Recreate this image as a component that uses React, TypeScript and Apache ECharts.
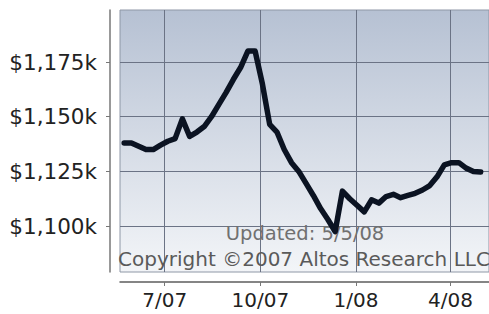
import React, { useEffect, useRef } from "react";
import * as echarts from "echarts";

const startDate = "2007-05-23";
const weeklyValues = [
  1138, 1138, 1136.5, 1135, 1135, 1137, 1138.8, 1140, 1149, 1141,
  1143, 1145.5, 1150, 1155.5, 1161, 1167, 1172.5, 1180, 1180, 1165,
  1146.5, 1143, 1135, 1129, 1125, 1119.5, 1114, 1108, 1103, 1097.5,
  1116, 1112.5, 1109.5, 1106.5, 1112, 1110.5, 1113.5, 1114.5, 1113, 1114,
  1115, 1116.5, 1118.5, 1122.5, 1128, 1129, 1129, 1126.5, 1125, 1124.7,
];
const xTickDates = ["2007-07-01", "2007-10-01", "2008-01-01", "2008-04-01"];
const yTickValues = [1100, 1125, 1150, 1175];
const xMinDate = "2007-05-19";
const xMaxDate = "2008-05-08";
const yMin = 1079;
const yMax = 1198.8;
const updatedText = "Updated: 5/5/08";
const copyrightText = "Copyright \u00a92007 Altos Research LLC";

const DAY = 86400000;

export default function App() {
  const ref = useRef<HTMLDivElement>(null);
  useEffect(() => {
    if (!ref.current) return;
    const chart = echarts.init(ref.current, null, { renderer: "svg" });
    const t0 = Date.parse(startDate + "T00:00:00Z");
    const data = weeklyValues.map((v, i) => [t0 + i * 7 * DAY, v]);
    const xTicks = xTickDates.map((d) => Date.parse(d + "T00:00:00Z"));
    const font = "DejaVu Sans";
    chart.setOption({
      animation: false,
      backgroundColor: "#ffffff",
      grid: {
        left: 120,
        right: 0,
        top: 10,
        bottom: 42,
        show: true,
        borderColor: "#8e97a6",
        borderWidth: 1,
        backgroundColor: new echarts.graphic.LinearGradient(0, 0, 0, 1, [
          { offset: 0, color: "#b6c1d3" },
          { offset: 1, color: "#f3f5f8" },
        ]),
        outerBoundsMode: "none",
      },
      xAxis: {
        type: "value",
        min: Date.parse(xMinDate + "T00:00:00Z"),
        max: Date.parse(xMaxDate + "T00:00:00Z"),
        offset: 10,
        axisLine: { show: true, lineStyle: { color: "#5e5e5e", width: 1.5 } },
        axisTick: {
          show: true,
          length: 4,
          customValues: xTicks,
          lineStyle: { color: "#777" },
        },
        axisLabel: {
          customValues: xTicks,
          margin: 8,
          color: "#222",
          fontSize: 20,
          fontFamily: font,
          formatter: (v: number) => {
            const d = new Date(v);
            const m = d.getUTCMonth() + 1;
            const y = String(d.getUTCFullYear() % 100).padStart(2, "0");
            return m + "/" + y;
          },
        },
        splitLine: { show: true, lineStyle: { color: "#6b7385", width: 1 } },
      },
      yAxis: {
        type: "value",
        min: yMin,
        max: yMax,
        offset: 10,
        axisLine: { show: true, lineStyle: { color: "#777", width: 1.5 } },
        axisTick: {
          show: true,
          length: 4,
          customValues: yTickValues,
          lineStyle: { color: "#777" },
        },
        axisLabel: {
          customValues: yTickValues,
          margin: 13,
          color: "#222",
          fontSize: 21.5,
          fontFamily: font,
          formatter: (v: number) =>
            "$" + Math.floor(v / 1000) + "," + String(Math.round(v) % 1000).padStart(3, "0") + "k",
        },
        splitLine: { show: true, lineStyle: { color: "#6b7385", width: 1 } },
      },
      graphic: [
        {
          type: "text",
          z: 1,
          x: 305,
          y: 233,
          style: {
            text: updatedText,
            fill: "#707070",
            font: "19.5px 'DejaVu Sans'",
            align: "center",
            verticalAlign: "middle",
          },
        },
        {
          type: "text",
          z: 1,
          x: 304,
          y: 259,
          style: {
            text: copyrightText,
            fill: "#5a5a5a",
            font: "20px 'DejaVu Sans'",
            align: "center",
            verticalAlign: "middle",
          },
        },
      ],
      series: [
        {
          type: "line",
          data,
          z: 5,
          showSymbol: false,
          symbol: "none",
          lineStyle: { color: "#0b1322", width: 5.5, join: "round", cap: "round" },
        },
      ],
    });
    return () => chart.dispose();
  }, []);
  return (
    <div
      ref={ref}
      style={{ position: "absolute", left: 0, top: 0, width: 489, height: 314 }}
    />
  );
}
